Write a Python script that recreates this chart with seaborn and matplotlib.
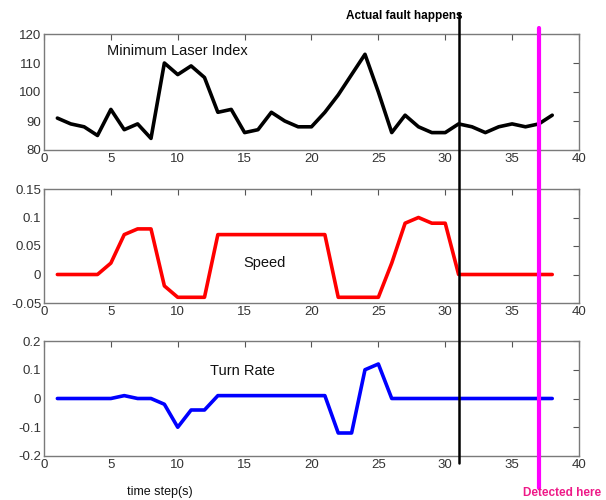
#!/usr/bin/env python3
# coding=utf-8
import matplotlib
matplotlib.use('Agg')
import matplotlib.pyplot as plt
from matplotlib.lines import Line2D
from matplotlib.transforms import blended_transform_factory
import numpy as np
import pandas as pd
import seaborn as sns

steps = list(range(1, 39))
laser_index = [91, 89, 88, 85, 94, 87, 89, 84, 110, 106, 109, 105, 93, 94, 86, 87,
               93, 90, 88, 88, 93, 99, 106, 113, 100, 86, 92, 88, 86, 86, 89, 88,
               86, 88, 89, 88, 89, 92]
speed = [0, 0, 0, 0, 0.02, 0.07, 0.08, 0.08, -0.02, -0.04, -0.04, -0.04, 0.07, 0.07,
         0.07, 0.07, 0.07, 0.07, 0.07, 0.07, 0.07, -0.04, -0.04, -0.04, -0.04, 0.02,
         0.09, 0.1, 0.09, 0.09, 0, 0, 0, 0, 0, 0, 0, 0]
turn_rate = [0, 0, 0, 0, 0, 0.01, 0, 0, -0.02, -0.1, -0.04, -0.04, 0.01, 0.01, 0.01,
             0.01, 0.01, 0.01, 0.01, 0.01, 0.01, -0.12, -0.12, 0.1, 0.12, 0, 0, 0, 0,
             0, 0, 0, 0, 0, 0, 0, 0, 0]
fault_step = 31
detect_step = 37

sns.set_style('white')
plt.rcParams['font.family'] = ['Liberation Sans', 'DejaVu Sans']

fig = plt.figure(figsize=(6.06, 5.0), dpi=100)
# [left, bottom, width, height] matched to the reference layout
boxes = [[0.0726, 0.700, 0.8828, 0.232],
         [0.0726, 0.394, 0.8828, 0.228],
         [0.0726, 0.088, 0.8828, 0.230]]

panels = [
    (laser_index, 'black', (80, 120), [80, 90, 100, 110, 120], ['80', '90', '100', '110', '120'],
     'Minimum Laser Index', 4.7, 114.3),
    (speed, 'red', (-0.05, 0.15), [-0.05, 0, 0.05, 0.1, 0.15], ['-0.05', '0', '0.05', '0.1', '0.15'],
     'Speed', 14.9, 0.02),
    (turn_rate, 'blue', (-0.2, 0.2), [-0.2, -0.1, 0, 0.1, 0.2], ['-0.2', '-0.1', '0', '0.1', '0.2'],
     'Turn Rate', 12.4, 0.095),
]

axes = []
for box, (vals, color, ylim, yt, ytl, label, lx, ly) in zip(boxes, panels):
    ax = fig.add_axes(box)
    df = pd.DataFrame({'step': steps, 'value': vals})
    sns.lineplot(data=df, x='step', y='value', color=color, linewidth=2.6, ax=ax)
    ax.set_xlim(0, 40)
    ax.set_ylim(*ylim)
    ax.set_xticks(np.arange(0, 41, 5))
    ax.set_yticks(yt)
    ax.set_yticklabels(ytl)
    ax.set_xlabel('')
    ax.set_ylabel('')
    ax.tick_params(direction='in', top=True, right=True, length=4, width=0.8,
                   color='#555555', labelsize=9.5, labelcolor='#333333', pad=2)
    for s in ax.spines.values():
        s.set_color('#7a7a7a')
        s.set_linewidth(1.0)
    ax.text(lx, ly, label, fontsize=10.5, color='#111111', ha='left', va='center')
    axes.append(ax)

# vertical markers across all panels
trans = blended_transform_factory(axes[0].transData, fig.transFigure)
fig.add_artist(Line2D([fault_step, fault_step], [1 - 13 / 500, 1 - 463 / 500],
                      transform=trans, color='black', linewidth=1.8))
fig.add_artist(Line2D([detect_step, detect_step], [1 - 28 / 500, 1 - 488 / 500],
                      transform=trans, color='#ff00ff', linewidth=3.0))

fig.text(462 / 606, 1 - 16 / 500, 'Actual fault happens', ha='right', va='center',
         fontsize=8.5, fontweight='bold', color='black')
fig.text(601 / 606, 1 - 493 / 500, 'Detected here', ha='right', va='center',
         fontsize=8.5, fontweight='bold', color='#ee1a88')
fig.text(127 / 606, 1 - 492 / 500, 'time step(s)', ha='left', va='center',
         fontsize=9, color='#111111')

plt.savefig('out.png', dpi=100)
plt.close('all')
